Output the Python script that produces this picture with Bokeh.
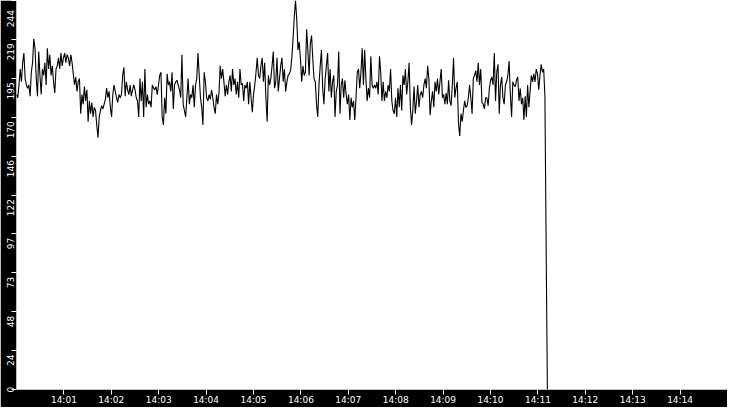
from math import pi

import numpy as np
import pandas as pd
from bokeh.plotting import figure
from bokeh.models import (FixedTicker, DatetimeTickFormatter, Range1d, LinearAxis,
                          CustomJSTickFormatter)
from bokeh.embed import file_html
from bokeh.resources import INLINE

day = "2024-01-01"
first_sample = "14:00:00"
last_sample = "14:11:12"

# readings left to right
part_a = [185, 183, 191, 201, 193, 205, 211, 195, 191, 189, 191, 184, 199, 205, 220, 214, 195, 184, 212, 197,
          185, 201, 197, 205, 191, 214, 201, 210, 197, 203, 193, 186, 201, 203, 208, 201, 211, 203, 208, 211,
          205, 210, 208, 203, 210, 205, 198, 191, 196, 187, 193, 195, 173, 185, 179, 190, 181, 188, 168, 181,
          173, 180, 171, 177, 175, 166, 158, 171, 175, 178, 176, 179, 182, 189, 183, 187, 177, 171, 185, 191,
          187, 183, 180, 185, 183, 185, 197, 202]
part_b = [184, 193, 188, 185, 191, 184, 188, 191, 188, 183, 181, 171, 195, 181, 193, 171, 201, 177, 185, 179,
          181, 177, 191, 189, 188, 190, 185, 191, 197, 199, 171, 166, 183, 173, 198, 191, 193, 187, 199, 176,
          191, 193, 194, 191, 188, 183, 210, 179, 175, 171, 183, 195, 179, 185, 183, 191, 177, 191, 195, 211,
          197, 183, 177, 166, 199, 193, 183, 181, 185, 182, 188, 183, 177, 173, 185, 179, 186, 203, 195, 201,
          193, 184, 191, 185]
part_c = [193, 197, 187, 201, 191, 195, 185, 193, 183, 201, 191, 192, 181, 191, 189, 193, 179, 193, 183, 174,
          185, 191, 199, 208, 197, 195, 203, 208, 193, 205, 183, 168, 197, 191, 195, 203, 212, 189, 193, 208,
          187, 195, 203, 208, 193, 201, 187, 193, 197, 198, 200, 208, 220, 234, 244, 232, 213, 218, 207, 193,
          203, 197, 199, 226, 213, 197, 217, 222, 207, 195, 193, 179, 171, 191, 203, 213, 189, 179, 195, 203,
          211, 187, 201, 183, 193, 197, 171, 187]
part_d = [191, 212, 173, 191, 195, 183, 194, 185, 179, 185, 169, 183, 177, 181, 169, 183, 199, 201, 189, 199,
          214, 191, 213, 195, 181, 189, 183, 209, 191, 189, 191, 189, 193, 185, 209, 199, 181, 193, 181, 187,
          183, 191, 187, 201, 181, 175, 173, 183, 171, 189, 177, 191, 175, 197, 191, 201, 185, 193, 205, 177,
          166, 175, 190, 173, 181, 191, 177, 185, 187, 183, 191, 195, 189, 203, 195, 172, 181, 187, 177, 193,
          187, 195, 185, 193, 201, 183, 185, 179]
part_e = [186, 179, 194, 181, 178, 191, 208, 183, 189, 193, 167, 159, 173, 168, 175, 181, 177, 178, 183, 191,
          183, 173, 195, 197, 200, 193, 205, 191, 201, 180, 179, 176, 183, 183, 178, 189, 194, 196, 191, 211,
          181, 199, 204, 173, 191, 196, 183, 179, 191, 193, 197, 206, 185, 171, 193, 191, 190, 194, 196, 181,
          189, 179, 183, 169, 184, 171, 191, 177, 187, 197, 193, 198, 193, 201, 198, 188, 197, 204, 199, 201,
          184]
drop = [90, 0]

minute_labels = ["14:01", "14:02", "14:03", "14:04", "14:05", "14:06", "14:07",
                 "14:08", "14:09", "14:10", "14:11", "14:12", "14:13", "14:14"]
y_ticks = [0, 24.4, 48.8, 73.2, 97.6, 122, 146.4, 170.8, 195.2, 219.6, 244]
y_labels = ["0", "24", "48", "73", "97", "122", "146", "170", "195", "219", "244"]

values = part_a + part_b + part_c + part_d + part_e + drop
t0 = pd.Timestamp(day + " " + first_sample)
t1 = pd.Timestamp(day + " " + last_sample)
times = pd.to_datetime(np.linspace(t0.value, t1.value, len(values)))

W, H = 727, 407
y_top = y_ticks[-1]

p = figure(width=W, height=H, x_axis_type="datetime",
           x_range=Range1d(pd.Timestamp(day + " 14:00"), pd.Timestamp(day + " 14:15")),
           y_range=Range1d(0, y_top),
           output_backend="svg", toolbar_location=None,
           min_border_left=0, min_border_bottom=16, min_border_top=0, min_border_right=0,
           border_fill_color="black", background_fill_color="white", outline_line_color=None)
p.grid.visible = False

p.line(times, values, line_color="black", line_width=1.1)

xa = p.xaxis[0]
xa.ticker = FixedTicker(ticks=[pd.Timestamp(day + " " + m).value / 1e6 for m in minute_labels])
xa.formatter = DatetimeTickFormatter(seconds="%H:%M", minsec="%H:%M", minutes="%H:%M",
                                     hourmin="%H:%M", hours="%H:%M")

# inner left axis: tick marks only
ya = p.yaxis[0]
ya.ticker = FixedTicker(ticks=y_ticks)
ya.formatter = CustomJSTickFormatter(code="return ''")
ya.major_label_text_font_size = "0px"
ya.major_label_standoff = 0

for ax in (xa, ya):
    ax.axis_line_color = None
    ax.major_tick_line_color = "white"
    ax.major_tick_out = 5
    ax.major_tick_in = 0
    ax.minor_tick_line_color = None
xa.major_label_text_color = "white"
xa.major_label_text_font = "DejaVu Sans"
xa.major_label_text_font_size = "9px"
xa.major_label_standoff = 0

# outer left axis: vertical labels hung a few px below each tick, kept inside the frame
px_per_unit = (H - 17) / y_top
centers = []
for tick, text in zip(y_ticks, y_labels):
    half = len(text) * 5.7 / 2 / px_per_unit
    c = tick - 4 / px_per_unit
    centers.append(min(max(c, half), y_top - half - 1 / px_per_unit))

la = LinearAxis(ticker=FixedTicker(ticks=centers),
                formatter=CustomJSTickFormatter(args=dict(centers=centers, labels=y_labels), code="""
                    let best = 0;
                    for (let i = 0; i < centers.length; i++) {
                        if (Math.abs(centers[i] - tick) < Math.abs(centers[best] - tick)) best = i;
                    }
                    return labels[best];
                """),
                axis_line_color=None, major_tick_line_color=None, minor_tick_line_color=None,
                major_tick_out=0, major_tick_in=0, major_label_standoff=1,
                major_label_orientation=pi / 2,
                major_label_text_color="white", major_label_text_font="DejaVu Sans",
                major_label_text_font_size="9px")
p.add_layout(la, "left")

open("out.html", "w").write(file_html(p, INLINE))
